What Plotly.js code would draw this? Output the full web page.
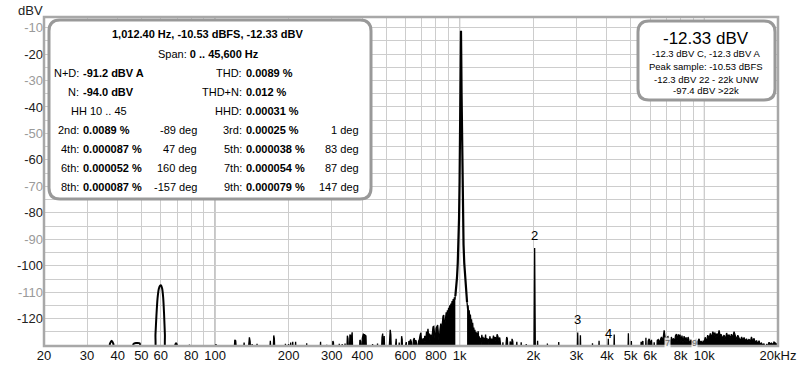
<!DOCTYPE html>
<html><head><meta charset="utf-8">
<script src="https://cdn.plot.ly/plotly-3.0.1.min.js"></script>
<style>html,body{margin:0;padding:0;background:#fff}#chart{width:800px;height:370px}</style>
</head><body><div id="chart"></div>
<script>
// ---------- spectrum data (Hz, dBV) ----------
const lfFreq = [20,36.6,37.2,37.8,38.4,39,45.8,46.4,47.5,49.2,50,56.6,57.1,57.6,58.2,58.9,59.6,60.2,60.8,61.4,61.9,62.4,62.9,68.3,68.8,69.3,69.8,70.3,78.2,78.6,79,100.4,100.9,101.4,110];
const lfDbv  = [-133,-133,-129.4,-128.3,-129.4,-133,-133,-129.6,-129.2,-129.3,-133,-133,-126,-119,-112.5,-108.8,-107.5,-107.4,-108.6,-112,-118,-126,-133,-133,-129.8,-129.3,-129.8,-133,-133,-130.1,-133,-133,-129.9,-133,-133];

const noiseLoFreq = [110,119.5,120.5,121.5,122.5,130.5,131.5,132.5,136.5,137.3,138.2,139.1,140,141.3,141.8,142.4,147.6,148.5,149.4,167.2,168.3,169.4,172.8,173.8,174.8,175.7,193,194,195,198.8,199.8,200.8,202.8,203.8,204.8,206.8,207.8,208.8,212.5,213.5,214.5,236,237,238,268.8,270,271.2,285,286.2,287.4,301.8,303.2,304.8,306.2,320,322,324,329,331,333,338,340,342,345.5,347.5,349.5,351.5,354,356,358.5,361,363.5,365.5,369,371,373,389,391,393.5,396,398,400,402,404,406,408,410,412,414,416,420,422,424,438,440.5,443,459,461.5,464,479,481.5,484.5,487.5,489,491.5,494,514,517,520,523,526,544,547,550,553,563,566,569,576,579,582,585,598,601,605,609,616,620,625,630,635,640,643,647,652,657,662,667,671,675,679,684,689,694,698,702,705,710,715,720,726,732,737,742,747,752,757,762,767,773,778,784,789,795,801,807,813,819,825,831,837,843,849,855,861,866,871,876,881,886,891,896,901,906,911,916,921,926,931,936,941,946,951,956,960];
const noiseLoDbv  = [-133,-133,-128,-128.3,-133,-133,-129,-133,-133,-127.6,-127,-128.4,-133,-133,-129.6,-133,-133,-129.5,-133,-133,-128.3,-133,-133,-126.3,-127.6,-133,-133,-129.5,-133,-133,-129.6,-133,-133,-129,-133,-133,-128.7,-133,-133,-128.7,-133,-133,-129.3,-133,-133,-128.7,-133,-133,-129.8,-133,-133,-128.4,-128.9,-133,-133,-129.5,-133,-133,-129.6,-133,-133,-129.4,-133,-133,-126.4,-127.5,-133,-133,-126,-126.8,-127.3,-125.1,-133,-133,-130,-133,-133,-128,-128.5,-133,-133,-127.4,-126.2,-125.6,-127,-125.8,-126.6,-126.2,-126.6,-133,-133,-130,-133,-133,-129.6,-133,-133,-129.4,-133,-133,-127,-125.6,-133,-133,-126.5,-133,-133,-125,-124.2,-126,-133,-133,-128.5,-127.6,-133,-133,-129,-133,-133,-126.6,-127.8,-133,-133,-130,-128.8,-133,-133,-128.4,-129,-127.8,-128.8,-133,-133,-128,-127.3,-129,-128.1,-129.4,-133,-133,-128.5,-127.9,-126.2,-125.3,-128.2,-133,-128,-127.4,-129,-126.5,-128.6,-124.8,-126.6,-123.8,-127,-125.6,-128.6,-126,-129,-124.5,-123.1,-122.9,-126,-128.5,-123.6,-122.7,-122.4,-126,-129,-124,-121.8,-125,-121.5,-119,-118.6,-124,-121.5,-119.8,-117.6,-120,-116.8,-118.4,-115.9,-117.5,-114.9,-116.4,-114.3,-115.6,-113.3,-114.5,-112.6,-113.8,-111.9,-112.8,-111.5];

const peakFreq = [960,968,975,982,988,994,999,1003,1007,1010,1012.4,1015,1018,1022,1026,1031,1037,1044,1051,1058,1065,1072];
const peakDbv  = [-111.5,-108.5,-104.5,-99,-92,-82,-68,-52,-35,-21,-11.2,-21,-35,-52,-68,-82,-92,-99,-104,-108.5,-111.5,-113.8];

const noiseHiFreq = [1072,1077,1082,1088,1094,1100,1106,1112,1118,1124,1130,1136,1142,1148,1154,1160,1166,1172,1178,1184,1190,1196,1202,1208,1214,1220,1226,1232,1238,1245,1252,1260,1268,1276,1284,1292,1300,1310,1320,1330,1340,1350,1362,1374,1386,1398,1410,1422,1434,1446,1458,1470,1482,1495,1502,1510,1540,1548,1556,1566,1575,1600,1608,1618,1630,1636,1648,1660,1695,1702,1712,1722,1775,1784,1793,1862,1871,1880,2012,2019,2025,2031,2038,2074,2082,2090,2274,2283,2292,2528,2540,2552,2758,2771,2784,3026,3037,3048,3103,3115,3127,3476,3490,3504,3697,3712,3727,4035,4050,4065,4266,4282,4298,4874,4892,4910,5014,5032,5050,5490,5515,5545,5560,5610,5630,5748,5770,5792,5860,5900,5950,6000,6080,6140,6200,6237,6290,6380,6420,6480,6537,6600,6680,6760,6850,6900,6960,7030,7100,7181,7250,7330,7400,7480,7560,7620,7690,7760,7830,7886,7950,8020,8100,8180,8265,8340,8420,8500,8580,8663,8740,8820,8900,8990,9079,9170,9260,9350,9440,9518,9600,9700,9800,9900,9976,10080,10200,10320,10456,10580,10700,10830,10961,11050,11150,11250,11360,11487,11600,11720,11850,12041,12200,12330,12470,12619,12760,12900,13050,13227,13380,13530,13700,13864,14030,14200,14360,14531,14700,14870,15050,15228,15400,15580,15770,15962,16150,16340,16530,16730,16930,17130,17330,17534,17750,17960,18170,18381,18600,18830,19050,19266,19500,19750,19900];
const noiseHiDbv  = [-113.8,-116.2,-114.9,-118.3,-116.8,-120.2,-118.4,-121.8,-120.2,-123.2,-121.5,-124.8,-123.3,-125.6,-124.2,-127.4,-124.9,-128.6,-125.3,-127,-124.7,-128,-126.6,-129.5,-127.2,-133,-127.8,-126.1,-128.7,-126.8,-129.8,-127.2,-128.6,-126,-129,-127.3,-133,-127.6,-128.8,-126.6,-129.4,-127.5,-128.9,-126.4,-128,-126.9,-129.1,-125.9,-126.8,-128.4,-127.1,-129.5,-133,-133,-128.9,-133,-133,-129.3,-126.9,-127.5,-133,-133,-128.6,-129.2,-133,-127.6,-128.5,-133,-133,-129.6,-128.7,-133,-133,-128.9,-133,-133,-129.6,-133,-133,-112,-93.3,-112,-133,-133,-128.3,-133,-133,-129.4,-133,-133,-128.8,-133,-133,-130,-133,-133,-125.2,-133,-133,-126.2,-133,-133,-129.3,-133,-133,-128.3,-133,-133,-127.6,-133,-133,-126,-133,-133,-125.5,-133,-133,-128.4,-133,-133,-128.7,-133,-129,-128.4,-133,-133,-127.2,-133,-133,-128.4,-127.6,-129.5,-128,-133,-133,-128.9,-133,-133,-128.2,-127.9,-129,-128,-126.9,-128.6,-124.4,-126.5,-129.6,-127.2,-126.8,-127.8,-129.3,-126.9,-128.6,-127.4,-129,-126.4,-125.8,-128.2,-125.9,-127.6,-126,-128.8,-126.4,-129.1,-126.6,-128.6,-127,-128.9,-126.9,-128.4,-129.5,-127.9,-129.2,-128.4,-129.8,-128,-127.7,-129.2,-128.5,-127.6,-129.4,-128.4,-129.6,-128.3,-129,-127,-128.9,-126.2,-127.4,-125.5,-127.3,-124.9,-126.3,-125.2,-127.1,-125.6,-126.8,-124.4,-126.5,-125.9,-127.5,-126.2,-127.8,-125.4,-126.9,-126,-127.6,-125.8,-127.2,-124.9,-126.4,-127.9,-126.2,-127.4,-128.4,-126.9,-128.1,-127.1,-128.5,-127.6,-128.8,-127.7,-129,-126.9,-128.7,-127.4,-129.2,-128.2,-129.5,-128.3,-129.7,-129.2,-130,-129.4,-133,-129.8,-130.1,-128.9,-129.5,-129.2,-129.9,-128.8,-129.3,-129.6,-133];

// harmonic markers
const harmFreq  = [2025, 3037, 4050, 7087, 9112];
const harmLabel = ['2', '3', '4', '7', '9'];
const harmLabelDbv = [-88.7, -120.4, -125.7, -129.3, -129.3];

// axis ticks
const xTickVals = [20,30,40,50,60,70,80,90,100,200,300,400,500,600,700,800,900,1000,2000,3000,4000,5000,6000,7000,8000,9000,10000,20000];
const xTickText = ['20','30','40','50','60','','80','','100','200','300','400','','600','','800','','1k','2k','3k','4k','5k','6k','','8k','','10k','20kHz'];
const yTickVals = [-130,-125,-120,-115,-110,-105,-100,-95,-90,-85,-80,-75,-70,-65,-60,-55,-50,-45,-40,-35,-30,-25,-20,-15,-10];
const decadeLines = [100, 1000, 10000];

// ---------- geometry helpers ----------
const L = 44, R = 778, T = 17, B = 346;
const px = x => (x - L) / (R - L);
const py = y => (B - y) / (B - T);
const xmin = Math.log10(20), xmax = Math.log10(20000);
const fx = f => (Math.log10(f) - xmin) / (xmax - xmin);

function rr(x0, y0, x1, y1, r) {
  return `M ${px(x0+r)},${py(y0)} L ${px(x1-r)},${py(y0)} Q ${px(x1)},${py(y0)} ${px(x1)},${py(y0+r)} ` +
         `L ${px(x1)},${py(y1-r)} Q ${px(x1)},${py(y1)} ${px(x1-r)},${py(y1)} L ${px(x0+r)},${py(y1)} ` +
         `Q ${px(x0)},${py(y1)} ${px(x0)},${py(y1-r)} L ${px(x0)},${py(y0+r)} Q ${px(x0)},${py(y0)} ${px(x0+r)},${py(y0)} Z`;
}
const FONT = 'Liberation Sans, Arial, sans-serif';
function ann(text, x, y, anchor, size, extra) {
  return Object.assign({xref:'paper', yref:'paper', x:px(x), y:py(y), text:text, showarrow:false,
    xanchor:anchor, yanchor:'middle', font:{family:FONT, size:size, color:'#000'}}, extra || {});
}

// ---------- traces ----------
const traces = [
  {x: lfFreq, y: lfDbv, mode:'lines', line:{color:'#000', width:2, shape:'spline', smoothing:0.6}, hoverinfo:'skip'},
  {x: [noiseLoFreq[0], noiseLoFreq[noiseLoFreq.length-1]], y: [-140,-140], mode:'lines', line:{width:0}, hoverinfo:'skip'},
  {x: noiseLoFreq, y: noiseLoDbv, mode:'lines', fill:'tonexty', fillcolor:'#000', line:{color:'#000', width:1.3}, hoverinfo:'skip'},
  {x: peakFreq, y: peakDbv, mode:'lines', line:{color:'#000', width:2.2}, hoverinfo:'skip'},
  {x: [noiseHiFreq[0], noiseHiFreq[noiseHiFreq.length-1]], y: [-140,-140], mode:'lines', line:{width:0}, hoverinfo:'skip'},
  {x: noiseHiFreq, y: noiseHiDbv, mode:'lines', fill:'tonexty', fillcolor:'#000', line:{color:'#000', width:1.3}, hoverinfo:'skip'}
];

// ---------- shapes ----------
const shapes = [];
decadeLines.forEach(f => shapes.push({type:'line', xref:'paper', yref:'paper', x0:fx(f), x1:fx(f), y0:0, y1:1, line:{color:'#8c8c8c', width:1}, layer:'below'}));
shapes.push({type:'rect', xref:'paper', yref:'paper', x0:0, x1:1, y0:0, y1:1, line:{color:'#a8a8a8', width:2.5}});
shapes.push({type:'path', xref:'paper', yref:'paper', path: rr(49, 20, 371, 199, 11), fillcolor:'#fff', line:{color:'#999', width:3}});
shapes.push({type:'path', xref:'paper', yref:'paper', path: rr(638, 21, 775, 100, 11), fillcolor:'#fff', line:{color:'#999', width:3}});

// ---------- annotations ----------
const A = [];
A.push(ann('dBV', 30, 10, 'center', 13, {font:{family:FONT, size:13, color:'#222'}}));
// left info panel
A.push(ann('<b>1,012.40 Hz, -10.53 dBFS, -12.33 dBV</b>', 207, 34, 'center', 11));
A.push(ann('Span: <b>0 .. 45,600 Hz</b>', 208, 54, 'center', 11));
const rowsY = [73, 92, 111, 130, 149, 168, 187];
const leftLab  = ['N+D:', 'N:', null, '2nd:', '4th:', '6th:', '8th:'];
const leftVal  = ['-91.2 dBV A', '-94.0 dBV', null, '0.0089 %', '0.000087 %', '0.000052 %', '0.000087 %'];
const leftDeg  = [null, null, null, '-89 deg', '47 deg', '160 deg', '-157 deg'];
const rightLab = ['THD:', 'THD+N:', 'HHD:', '3rd:', '5th:', '7th:', '9th:'];
const rightVal = ['0.0089 %', '0.012 %', '0.00031 %', '0.00025 %', '0.000038 %', '0.000054 %', '0.000079 %'];
const rightDeg = [null, null, null, '1 deg', '83 deg', '87 deg', '147 deg'];
rowsY.forEach((y, i) => {
  if (leftLab[i]) { A.push(ann(leftLab[i], 81, y, 'right', 11)); A.push(ann('<b>' + leftVal[i] + '</b>', 81, y, 'left', 11)); }
  if (leftDeg[i]) A.push(ann(leftDeg[i], 199, y, 'right', 11));
  A.push(ann(rightLab[i], 244, y, 'right', 11)); A.push(ann('<b>' + rightVal[i] + '</b>', 244, y, 'left', 11));
  if (rightDeg[i]) A.push(ann(rightDeg[i], 361, y, 'right', 11));
});
A.push(ann('HH 10 .. 45', 99, 111, 'center', 11));
// right info panel
A.push(ann('-12.33 dBV', 706, 39, 'center', 17));
A.push(ann('-12.3 dBV C, -12.3 dBV A', 706, 54, 'center', 9.5));
A.push(ann('Peak sample: -10.53 dBFS', 706, 67, 'center', 9.5));
A.push(ann('-12.3 dBV 22 - 22k UNW', 706, 79, 'center', 9.5));
A.push(ann('-97.4 dBV &gt;22k', 706, 91, 'center', 9.5));
// harmonic labels
harmFreq.forEach((f, i) => {
  const small = i >= 3;
  A.push({xref:'x', yref:'y', x:Math.log10(f), y:harmLabelDbv[i], text:harmLabel[i], showarrow:false,
    xanchor:'center', yanchor:'middle', bgcolor: small ? 'rgba(255,255,255,0.85)' : 'rgba(0,0,0,0)', borderpad:0,
    font:{family:FONT, size: small ? 9 : 13, color: small ? '#666' : '#000'}});
});

const yTickText = yTickVals.map(v => {
  if (v % 10 !== 0 || v === -130) return '';
  const c = (Math.abs(v) / 10) % 2 === 1 ? '#9a9a9a' : '#222';
  return `<span style="color:${c}">${v}</span>`;
});

const layout = {
  width:800, height:370, margin:{l:L, r:800-R, t:T, b:370-B},
  paper_bgcolor:'#fff', plot_bgcolor:'#fff', showlegend:false,
  font:{family:FONT, size:13, color:'#000'},
  xaxis:{type:'log', range:[xmin, xmax], tickmode:'array', tickvals:xTickVals, ticktext:xTickText,
    showgrid:true, gridcolor:'#cdcdcd', gridwidth:1, zeroline:false, showline:false, ticks:'',
    tickfont:{family:FONT, size:13, color:'#111'}, fixedrange:true},
  yaxis:{range:[-130.3, -6], tickmode:'array', tickvals:yTickVals, ticktext:yTickText,
    showgrid:true, gridcolor:'#cdcdcd', gridwidth:1, zeroline:false, showline:false, ticks:'',
    tickfont:{family:FONT, size:13, color:'#222'}, fixedrange:true},
  shapes:shapes, annotations:A
};
Plotly.newPlot('chart', traces, layout, {staticPlot:true, displayModeBar:false});
</script>
</body></html>
